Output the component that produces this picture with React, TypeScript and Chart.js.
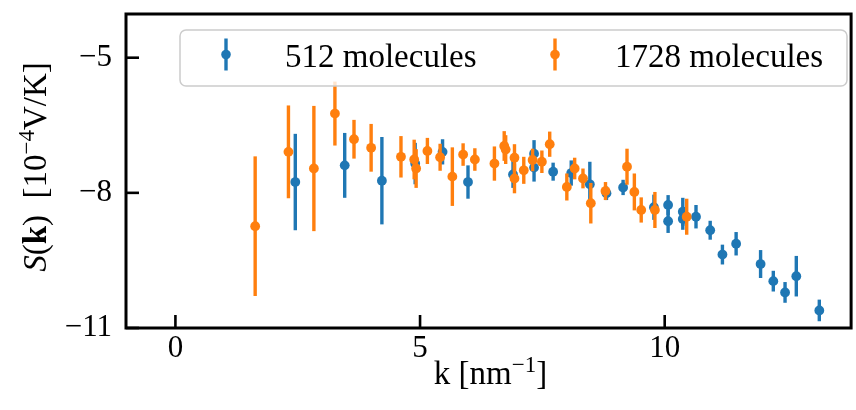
import React, { useEffect, useRef } from 'react';
import { Chart, registerables } from 'chart.js';

Chart.register(...registerables);

// ---------------- data ----------------
const seriesLabels = ['512 molecules', '1728 molecules'];

const k512 = [2.45, 3.46, 4.22, 4.90, 5.46, 5.98, 6.90, 7.33, 7.33, 7.72, 8.09, 8.47, 8.81, 9.15, 9.78, 10.07, 10.07, 10.37, 10.37, 10.64, 10.93, 11.18, 11.46, 11.96, 12.22, 12.46, 12.69, 13.16];
const s512 = [-7.76, -7.39, -7.73, -7.35, -7.09, -7.76, -7.59, -7.13, -7.44, -7.53, -7.56, -7.81, -8.01, -7.88, -8.32, -8.27, -8.63, -8.42, -8.58, -8.53, -8.83, -9.37, -9.13, -9.58, -9.96, -10.21, -9.85, -10.61];
const e512 = [1.07, 0.72, 0.97, 0.46, 0.28, 0.37, 0.30, 0.30, 0.31, 0.20, 0.28, 0.50, 0.15, 0.17, 0.28, 0.22, 0.26, 0.31, 0.24, 0.26, 0.21, 0.22, 0.26, 0.31, 0.23, 0.23, 0.45, 0.24];

const k1728 = [1.63, 2.31, 2.83, 3.26, 3.65, 4.00, 4.61, 4.88, 4.92, 5.15, 5.41, 5.66, 5.88, 6.12, 6.52, 6.72, 6.75, 6.93, 6.93, 7.12, 7.30, 7.49, 7.65, 8.00, 8.16, 8.33, 8.49, 8.79, 9.23, 9.38, 9.52, 9.80, 10.45];
const s1728 = [-8.74, -7.09, -7.46, -6.24, -6.81, -7.00, -7.20, -7.26, -7.46, -7.07, -7.21, -7.64, -7.15, -7.26, -7.35, -6.96, -7.04, -7.22, -7.68, -7.50, -7.27, -7.31, -6.92, -7.87, -7.46, -7.68, -8.23, -7.96, -7.42, -7.98, -8.38, -8.38, -8.53];
const e1728 = [1.55, 1.03, 1.39, 0.71, 0.43, 0.53, 0.46, 0.44, 0.43, 0.29, 0.30, 0.65, 0.25, 0.25, 0.38, 0.33, 0.32, 0.30, 0.33, 0.30, 0.25, 0.25, 0.28, 0.30, 0.24, 0.22, 0.45, 0.20, 0.40, 0.41, 0.28, 0.40, 0.40];

const xTicks = [0, 5, 10];
const yTicks = [-11, -8, -5];
const xRange = [-1.01, 13.81];
const yRange = [-11, -4.03];

// ---------------- styles ----------------
const BLUE = '#1f77b4';
const ORANGE = '#ff7f0e';
const SERIF = '"Liberation Serif", "DejaVu Serif", serif';
const W = 856;
const H = 410;

const fmt = (v: number) => (v < 0 ? '\u2212' + Math.abs(v) : String(v));

type Seg = { t: string; f: string; sup?: boolean };

function drawSegs(ctx: CanvasRenderingContext2D, segs: Seg[], cx: number, baseline: number) {
  let total = 0;
  for (const s of segs) {
    ctx.font = s.f;
    total += ctx.measureText(s.t).width;
  }
  let x = cx - total / 2;
  for (const s of segs) {
    ctx.font = s.f;
    ctx.fillText(s.t, x, s.sup ? baseline - 12 : baseline);
    x += ctx.measureText(s.t).width;
  }
}

const errorBarPlugin = {
  id: 'errorBars',
  beforeDatasetDraw(chart: any, args: any) {
    const ds = chart.data.datasets[args.index];
    const errs: number[] = ds.errors || [];
    const ys = chart.scales.y;
    const ctx = chart.ctx;
    const a = chart.chartArea;
    ctx.save();
    ctx.beginPath();
    ctx.rect(a.left, a.top, a.right - a.left, a.bottom - a.top);
    ctx.clip();
    ctx.strokeStyle = ds.borderColor;
    ctx.lineWidth = 3.4;
    ctx.lineCap = 'butt';
    args.meta.data.forEach((pt: any, i: number) => {
      const v = ds.data[i];
      const e = errs[i] || 0;
      ctx.beginPath();
      ctx.moveTo(pt.x, ys.getPixelForValue(v.y + e));
      ctx.lineTo(pt.x, ys.getPixelForValue(v.y - e));
      ctx.stroke();
    });
    ctx.restore();
  },
};

const framePlugin = {
  id: 'frame',
  afterDatasetsDraw(chart: any) {
    const ctx = chart.ctx;
    const a = chart.chartArea;
    const xs = chart.scales.x;
    const ys = chart.scales.y;
    ctx.save();
    ctx.strokeStyle = '#000';
    ctx.lineWidth = 2.6;
    ctx.lineCap = 'butt';
    for (const t of xTicks) {
      const px = xs.getPixelForValue(t);
      ctx.beginPath();
      ctx.moveTo(px, a.bottom);
      ctx.lineTo(px, a.bottom - 13);
      ctx.stroke();
    }
    for (const t of yTicks) {
      const py = ys.getPixelForValue(t);
      ctx.beginPath();
      ctx.moveTo(a.left, py);
      ctx.lineTo(a.left + 13, py);
      ctx.stroke();
    }
    ctx.lineWidth = 3;
    ctx.strokeRect(a.left, a.top, a.right - a.left, a.bottom - a.top);
    ctx.restore();
  },
};

const overlayPlugin = {
  id: 'overlay',
  afterDraw(chart: any) {
    const ctx = chart.ctx;
    const a = chart.chartArea;
    ctx.save();
    // legend
    const lx = 180, ly = 30, lw = 667, lh = 56;
    ctx.beginPath();
    ctx.roundRect(lx, ly, lw, lh, 6);
    ctx.fillStyle = 'rgba(255,255,255,0.8)';
    ctx.fill();
    ctx.strokeStyle = '#cccccc';
    ctx.lineWidth = 1.5;
    ctx.stroke();
    const entries = [
      { mx: 226, tx: 285 },
      { mx: 555, tx: 615 },
    ];
    chart.data.datasets.forEach((ds: any, i: number) => {
      const en = entries[i];
      const my = 54.5;
      ctx.strokeStyle = ds.borderColor;
      ctx.lineWidth = 3.4;
      ctx.beginPath();
      ctx.moveTo(en.mx, my - 16);
      ctx.lineTo(en.mx, my + 16);
      ctx.stroke();
      ctx.fillStyle = ds.backgroundColor;
      ctx.beginPath();
      ctx.arc(en.mx, my, 4.8, 0, Math.PI * 2);
      ctx.fill();
      ctx.fillStyle = '#000';
      ctx.font = `33px ${SERIF}`;
      ctx.textAlign = 'left';
      ctx.textBaseline = 'alphabetic';
      ctx.fillText(ds.label, en.tx, 66.5);
    });
    // x title
    ctx.fillStyle = '#000';
    ctx.textAlign = 'left';
    ctx.textBaseline = 'alphabetic';
    drawSegs(
      ctx,
      [
        { t: 'k [nm', f: `33px ${SERIF}` },
        { t: '\u22121', f: `23px ${SERIF}`, sup: true },
        { t: ']', f: `33px ${SERIF}` },
      ],
      (a.left + a.right) / 2 + 2,
      384
    );
    // y title
    ctx.save();
    ctx.translate(46, (a.top + a.bottom) / 2 - 4);
    ctx.rotate(-Math.PI / 2);
    drawSegs(
      ctx,
      [
        { t: 'S', f: `italic 33px ${SERIF}` },
        { t: '(', f: `33px ${SERIF}` },
        { t: 'k', f: `bold 33px ${SERIF}` },
        { t: ')  [10', f: `33px ${SERIF}` },
        { t: '\u22124', f: `23px ${SERIF}`, sup: true },
        { t: 'V/K]', f: `33px ${SERIF}` },
      ],
      0,
      0
    );
    ctx.restore();
    ctx.restore();
  },
};

export default function App() {
  const ref = useRef<HTMLCanvasElement | null>(null);

  useEffect(() => {
    if (!ref.current) return;
    const d512 = k512.map((x, i) => ({ x, y: s512[i] }));
    const d1728 = k1728.map((x, i) => ({ x, y: s1728[i] }));
    const chart = new Chart(ref.current, {
      type: 'scatter',
      data: {
        datasets: [
          {
            label: seriesLabels[0],
            data: d512,
            errors: e512,
            borderColor: BLUE,
            backgroundColor: BLUE,
            pointRadius: 4.9,
            pointBorderWidth: 0,
            pointHoverRadius: 4.9,
            order: 1,
          } as any,
          {
            label: seriesLabels[1],
            data: d1728,
            errors: e1728,
            borderColor: ORANGE,
            backgroundColor: ORANGE,
            pointRadius: 4.9,
            pointBorderWidth: 0,
            pointHoverRadius: 4.9,
            order: 0,
          } as any,
        ],
      },
      options: {
        responsive: false,
        animation: false,
        devicePixelRatio: 1,
        layout: { padding: { top: 14, right: 1, left: 0, bottom: 0 } },
        plugins: {
          legend: { display: false },
          tooltip: { enabled: false },
        },
        scales: {
          x: {
            type: 'linear',
            min: xRange[0],
            max: xRange[1],
            grid: { display: false, drawTicks: false },
            border: { display: false },
            afterBuildTicks: (s: any) => {
              s.ticks = xTicks.map((v) => ({ value: v }));
            },
            afterFit: (s: any) => {
              s.height = 82;
              s.paddingLeft = 0;
              s.paddingRight = 0;
              s.paddingTop = 0;
              s.paddingBottom = 0;
            },
            ticks: {
              color: '#000',
              padding: 2,
              maxRotation: 0,
              font: { family: SERIF, size: 31 },
              callback: (v: any) => fmt(Number(v)),
            },
          },
          y: {
            type: 'linear',
            min: yRange[0],
            max: yRange[1],
            grid: { display: false, drawTicks: false },
            border: { display: false },
            afterBuildTicks: (s: any) => {
              s.ticks = yTicks.map((v) => ({ value: v }));
            },
            afterFit: (s: any) => {
              s.width = 126;
              s.paddingLeft = 0;
              s.paddingRight = 0;
              s.paddingTop = 0;
              s.paddingBottom = 0;
            },
            ticks: {
              color: '#000',
              padding: 14,
              font: { family: SERIF, size: 31 },
              callback: (v: any) => fmt(Number(v)),
            },
          },
        },
      } as any,
      plugins: [errorBarPlugin, framePlugin, overlayPlugin],
    });
    return () => chart.destroy();
  }, []);

  return (
    <div style={{ position: 'fixed', left: 0, top: 0, width: W, height: H, background: '#fff' }}>
      <canvas ref={ref} width={W} height={H} style={{ width: W, height: H, display: 'block' }} />
    </div>
  );
}
